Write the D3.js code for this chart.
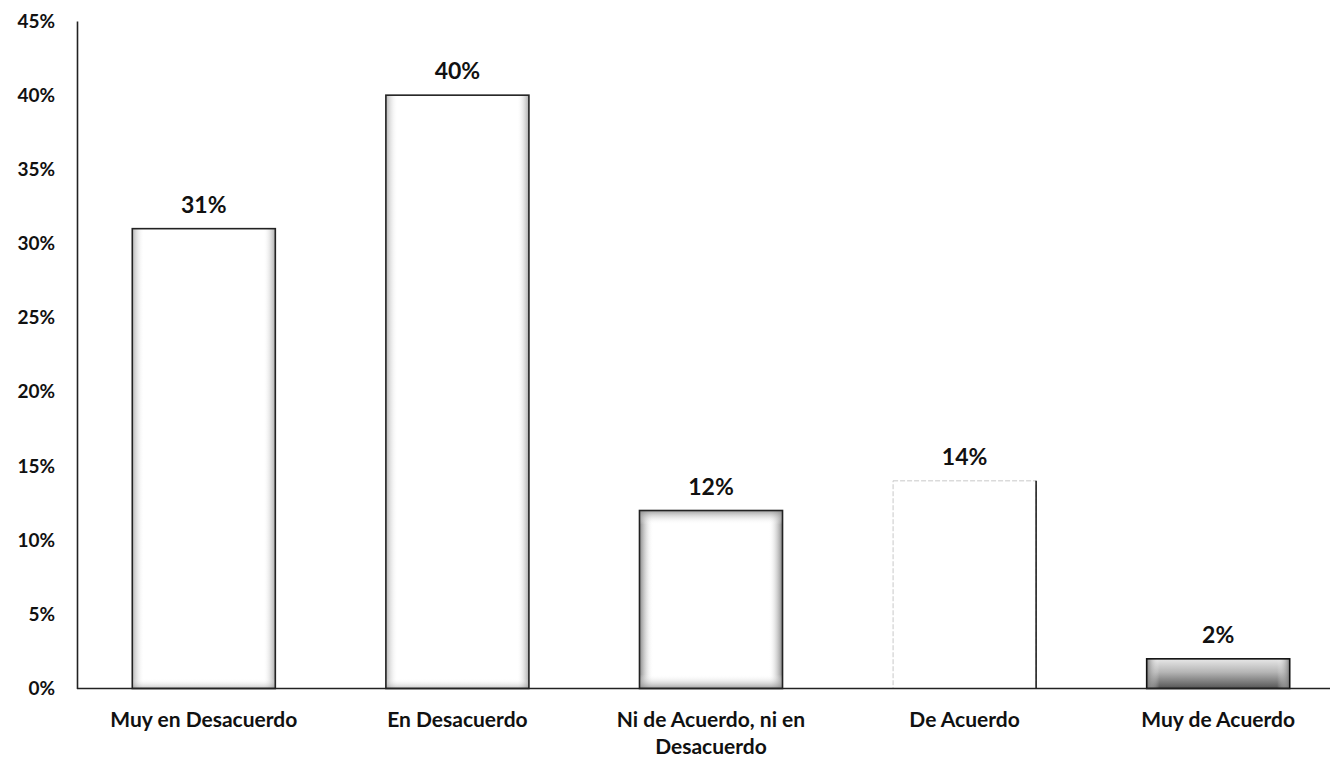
<!DOCTYPE html>
<html>
<head>
<meta charset="utf-8">
<script src="https://cdn.jsdelivr.net/npm/d3@7"></script>
<style>
  html, body { margin: 0; padding: 0; background: #fff; }
  svg { display: block; }
  text { font-family: Lato, "Open Sans", sans-serif; font-weight: bold; fill: #111; }
</style>
</head>
<body>
<svg id="chart" width="1330" height="757"></svg>
<script>
// Survey responses (share of respondents)
const categories = [
  "Muy en Desacuerdo",
  "En Desacuerdo",
  "Ni de Acuerdo, ni en Desacuerdo",
  "De Acuerdo",
  "Muy de Acuerdo"
];
const values = [31, 40, 12, 14, 2];
const yTicks = [0, 5, 10, 15, 20, 25, 30, 35, 40, 45];
// Bar shading style for each category
const barStyles = ["bevel", "bevel", "inset", "light", "dark"];

const svg = d3.select("#chart");
const margin = { left: 77, top: 21, bottom: 69 };
const H = 757;

const x = d3.scaleBand()
  .domain(categories)
  .range([margin.left, 1345])
  .paddingInner(0.436)
  .paddingOuter(0.218);

const y = d3.scaleLinear()
  .domain([0, 45])
  .range([H - margin.bottom + 0.5, margin.top]);

// Gradients for the shaded bar edges
const defs = svg.append("defs");
function grad(id, x1, y1, x2, y2, stops) {
  const g = defs.append("linearGradient").attr("id", id)
    .attr("x1", x1).attr("y1", y1).attr("x2", x2).attr("y2", y2);
  stops.forEach(s => g.append("stop").attr("offset", s[0])
    .attr("stop-color", s[1]).attr("stop-opacity", s[2]));
}
grad("edgeL", 0, 0, 1, 0, [[0, "#777", 0.9], [1, "#fff", 0]]);
grad("edgeR", 1, 0, 0, 0, [[0, "#777", 0.9], [1, "#fff", 0]]);
grad("edgeB", 0, 1, 0, 0, [[0, "#888", 0.8], [1, "#fff", 0]]);
grad("edgeT", 0, 0, 0, 1, [[0, "#888", 0.8], [1, "#fff", 0]]);
grad("darkFill", 0, 0, 0, 1, [[0, "#e8e8e8", 1], [0.45, "#b5b5b5", 1], [1, "#555", 1]]);

const bars = svg.append("g").selectAll("g.bar")
  .data(categories.map((c, i) => ({ c, v: values[i], s: barStyles[i] })))
  .join("g").attr("class", "bar");

bars.each(function (d) {
  const g = d3.select(this);
  const bx = x(d.c), bw = x.bandwidth();
  const by = y(d.v), bh = y(0) - y(d.v);

  if (d.s === "dark") {
    g.append("rect").attr("x", bx).attr("y", by).attr("width", bw).attr("height", bh)
      .attr("fill", "url(#darkFill)");
    const e = Math.min(9, bh / 2);
    g.append("rect").attr("x", bx).attr("y", by).attr("width", e * 1.4).attr("height", bh)
      .attr("fill", "url(#edgeL)");
    g.append("rect").attr("x", bx + bw - e * 1.4).attr("y", by).attr("width", e * 1.4).attr("height", bh)
      .attr("fill", "url(#edgeR)");
    g.append("rect").attr("x", bx).attr("y", by).attr("width", bw).attr("height", bh)
      .attr("fill", "none").attr("stroke", "#111").attr("stroke-width", 1.6);
    return;
  }

  g.append("rect").attr("x", bx).attr("y", by).attr("width", bw).attr("height", bh)
    .attr("fill", "#fff");

  if (d.s === "bevel") {
    g.append("rect").attr("x", bx).attr("y", by).attr("width", 12).attr("height", bh)
      .attr("fill", "url(#edgeL)").attr("opacity", 0.6);
    g.append("rect").attr("x", bx + bw - 12).attr("y", by).attr("width", 12).attr("height", bh)
      .attr("fill", "url(#edgeR)").attr("opacity", 0.7);
    g.append("rect").attr("x", bx).attr("y", y(0) - 10).attr("width", bw).attr("height", 10)
      .attr("fill", "url(#edgeB)").attr("opacity", 0.6);
    g.append("rect").attr("x", bx).attr("y", by).attr("width", bw).attr("height", bh)
      .attr("fill", "none").attr("stroke", "#222").attr("stroke-width", 1.6);
  } else if (d.s === "inset") {
    const e = 14;
    g.append("rect").attr("x", bx).attr("y", by).attr("width", e).attr("height", bh)
      .attr("fill", "url(#edgeL)");
    g.append("rect").attr("x", bx + bw - e).attr("y", by).attr("width", e).attr("height", bh)
      .attr("fill", "url(#edgeR)");
    g.append("rect").attr("x", bx).attr("y", y(0) - e).attr("width", bw).attr("height", e)
      .attr("fill", "url(#edgeB)");
    g.append("rect").attr("x", bx).attr("y", by).attr("width", bw).attr("height", e)
      .attr("fill", "url(#edgeT)");
    g.append("rect").attr("x", bx).attr("y", by).attr("width", bw).attr("height", bh)
      .attr("fill", "none").attr("stroke", "#222").attr("stroke-width", 1.6);
  } else {
    g.append("rect").attr("x", bx).attr("y", by).attr("width", bw).attr("height", bh)
      .attr("fill", "none").attr("stroke", "#c8c8c8").attr("stroke-width", 1)
      .attr("stroke-dasharray", "5,2");
    g.append("line").attr("x1", bx + bw).attr("x2", bx + bw).attr("y1", by).attr("y2", y(0))
      .attr("stroke", "#222").attr("stroke-width", 1.6);
  }
});

// Value labels above each bar
svg.append("g").selectAll("text")
  .data(categories.map((c, i) => ({ c, v: values[i] })))
  .join("text")
  .attr("x", d => x(d.c) + x.bandwidth() / 2)
  .attr("y", d => y(d.v) - 16)
  .attr("text-anchor", "middle")
  .attr("font-size", 23)
  .text(d => d.v + "%");

// Y axis
const yAxis = svg.append("g")
  .attr("transform", `translate(${margin.left},0)`)
  .call(d3.axisLeft(y).tickValues(yTicks).tickSize(0).tickPadding(22)
    .tickFormat(d => d + "%"));
yAxis.select(".domain").attr("stroke", "#222").attr("stroke-width", 1.6);
yAxis.selectAll("text").attr("font-size", 19)
  .attr("font-family", "Lato, sans-serif").attr("font-weight", "bold").attr("fill", "#111");

// X axis baseline and category labels
const xAxis = svg.append("g")
  .attr("transform", `translate(0,${y(0)})`)
  .call(d3.axisBottom(x).tickSize(0).tickPadding(24));
xAxis.select(".domain").remove();
svg.append("line").attr("x1", margin.left).attr("x2", 1330)
  .attr("y1", y(0)).attr("y2", y(0))
  .attr("stroke", "#222").attr("stroke-width", 1.6);

xAxis.selectAll("text")
  .attr("font-size", 21).attr("font-family", "Lato, sans-serif")
  .attr("font-weight", "bold").attr("fill", "#111")
  .each(function (d) {
    const t = d3.select(this);
    if (d.length > 20) {
      const first = "Ni de Acuerdo, ni en";
      const second = d.slice(first.length + 1);
      t.text(null);
      t.append("tspan").attr("x", 0).attr("dy", "0.71em").text(first);
      t.append("tspan").attr("x", 0).attr("dy", "1.25em").text(second);
      t.attr("dy", null);
    }
  });
</script>
</body>
</html>
